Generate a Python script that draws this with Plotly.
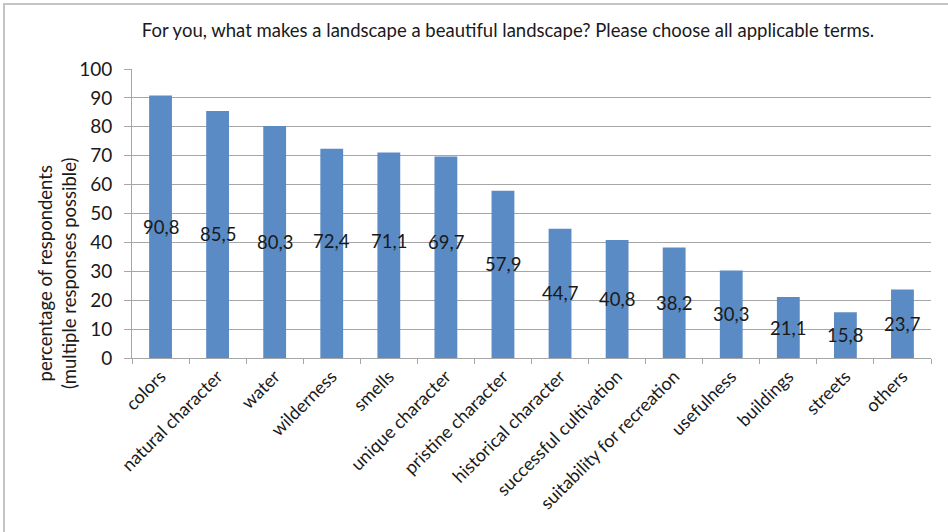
import plotly.graph_objects as go

# Survey answers: what makes a landscape beautiful (multiple responses possible)
categories = [
    "colors", "natural character", "water", "wilderness", "smells",
    "unique character", "pristine character", "historical character",
    "successful cultivation", "suitability for recreation", "usefulness",
    "buildings", "streets", "others",
]
percentages = [90.8, 85.5, 80.3, 72.4, 71.1, 69.7, 57.9, 44.7, 40.8, 38.2, 30.3, 21.1, 15.8, 23.7]
y_ticks = [0, 10, 20, 30, 40, 50, 60, 70, 80, 90, 100]

W, H = 948, 532
L, R, T, B = 132, 17, 69, 174
PW, PH = W - L - R, H - T - B

FONT = "Lato"
TXT = "#1a1a1a"
GRID = "#a6a6a6"

# decimal comma labels, as in the source table
labels = [f"{v:.1f}".replace(".", ",") for v in percentages]
# a few labels were nudged upwards by hand (pixels)
label_nudge = {"wilderness": 12, "smells": 14, "unique character": 15, "pristine character": 10}

fig = go.Figure(
    go.Bar(
        x=categories,
        y=percentages,
        marker=dict(color="#5b8bc5", line=dict(width=0)),
        hoverinfo="x+y",
    )
)


def px_x(p):
    return (p - L) / PW


def px_y(p):
    return (H - B - p) / PH


annotations = [
    dict(
        x=c,
        y=v / 2,
        xref="x",
        yref="y",
        text=t,
        showarrow=False,
        xanchor="center",
        yanchor="middle",
        yshift=label_nudge.get(c, 0),
        font=dict(family=FONT, size=18.5, color=TXT),
    )
    for c, v, t in zip(categories, percentages, labels)
]
annotations.append(
    dict(
        text="percentage of respondents<br>(multiple responses possible)",
        textangle=-90,
        xref="paper",
        yref="paper",
        x=px_x(57),
        y=px_y(273),
        xanchor="center",
        yanchor="middle",
        showarrow=False,
        align="center",
        font=dict(family=FONT, size=18.5, color=TXT),
    )
)

fig.update_layout(
    width=W,
    height=H,
    margin=dict(l=L, r=R, t=T, b=B, pad=0),
    paper_bgcolor="white",
    plot_bgcolor="white",
    bargap=0.6,
    showlegend=False,
    font=dict(family=FONT, color=TXT),
    title=dict(
        text="For you, what makes a landscape a beautiful landscape? Please choose all applicable terms.",
        x=508 / W,
        xanchor="center",
        y=1 - 31 / H,
        yanchor="middle",
        font=dict(family=FONT, size=18.5, color=TXT),
    ),
    xaxis=dict(
        type="category",
        tickangle=-45,
        tickson="boundaries",
        ticks="outside",
        ticklen=5,
        tickcolor=GRID,
        showline=True,
        linecolor=GRID,
        linewidth=1,
        showgrid=False,
        tickfont=dict(family=FONT, size=18, color=TXT),
    ),
    yaxis=dict(
        range=[0, 100],
        tickvals=y_ticks,
        ticks="outside",
        ticklen=7,
        tickcolor=GRID,
        showline=True,
        linecolor=GRID,
        linewidth=1,
        showgrid=True,
        gridcolor=GRID,
        gridwidth=1,
        zeroline=False,
        tickfont=dict(family=FONT, size=19, color=TXT),
        ticklabelstandoff=8,
    ),
    annotations=annotations,
    shapes=[
        dict(
            type="rect",
            xref="paper",
            yref="paper",
            x0=px_x(4),
            x1=px_x(1100),
            y0=px_y(700),
            y1=px_y(4),
            line=dict(color="#c4c4c4", width=2),
            layer="below",
        )
    ],
)

fig.write_html("out.html")
